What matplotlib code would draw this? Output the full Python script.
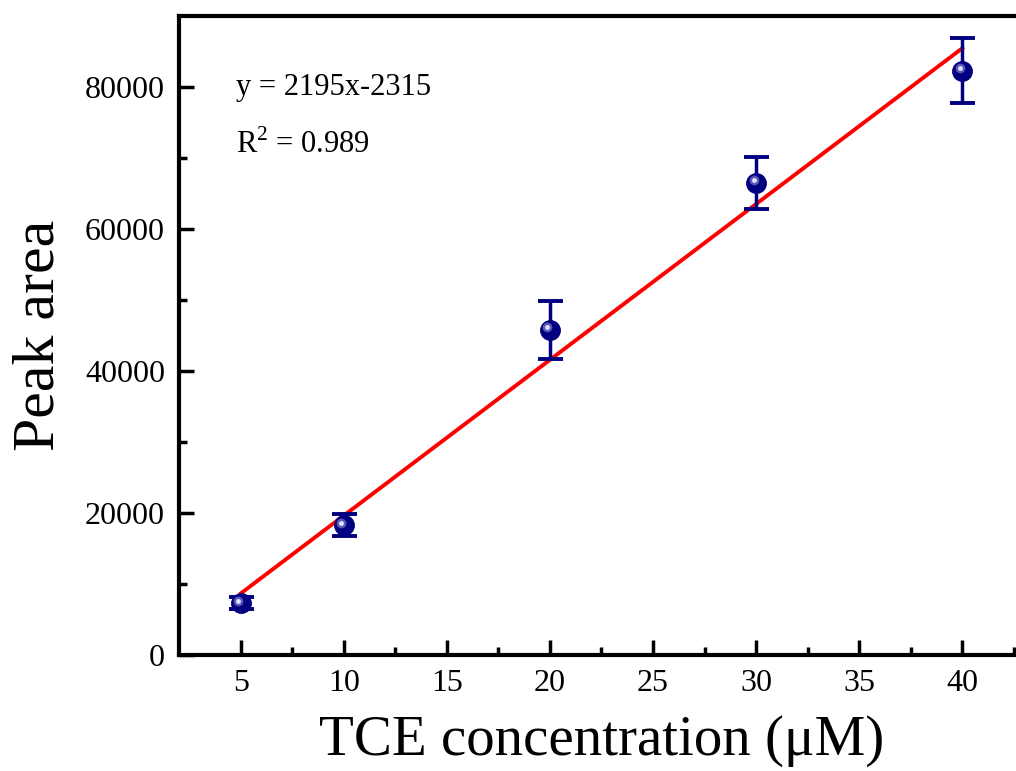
import numpy as np
import matplotlib
matplotlib.use('Agg')
import matplotlib.pyplot as plt
import matplotlib.transforms as mtransforms

plt.rcParams['font.family'] = ['Liberation Serif', 'DejaVu Serif']
plt.rcParams['mathtext.fontset'] = 'custom'
plt.rcParams['mathtext.rm'] = 'Liberation Serif'

# TCE concentration (uM) and measured peak area with error bars
conc = [5, 10, 20, 30, 40]
area = [7300, 18300, 45800, 66500, 82300]
err = [800, 1600, 4100, 3600, 4600]

# linear fit reported on the chart
slope = 2195
intercept = -2315

fig = plt.figure(figsize=(10.16, 7.71), dpi=100)
ax = fig.add_axes([0.176, 0.1505, 0.832, 0.8285])

xfit = np.array([conc[0], conc[-1]])
ax.plot(xfit, slope * xfit + intercept, color='red', lw=2.8, zorder=2)

ax.errorbar(conc, area, yerr=err, fmt='none', ecolor='#000080', elinewidth=2.5,
            capsize=9, capthick=2.8, zorder=3)
ax.plot(conc, area, 'o', color='#000080', ms=14, mec='#000080', zorder=4)
# little highlight so the markers look like spheres
shift = mtransforms.ScaledTranslation(-2.5 / 100, 2.5 / 100, fig.dpi_scale_trans)
ax.plot(conc, area, 'o', color='#7070c0', ms=7, mew=0, alpha=0.8,
        transform=ax.transData + shift, zorder=5)
ax.plot(conc, area, 'o', color='#e0e0ff', ms=3.5, mew=0,
        transform=ax.transData + shift, zorder=6)

ax.set_xlim(2, 43)
ax.set_ylim(0, 90000)
ax.set_xticks([5, 10, 15, 20, 25, 30, 35, 40])
ax.set_xticks(np.arange(7.5, 43, 5), minor=True)
ax.set_yticks([0, 20000, 40000, 60000, 80000])
ax.set_yticks([10000, 30000, 50000, 70000], minor=True)

ax.tick_params(which='major', direction='in', length=11, width=2.5, labelsize=23, pad=10)
ax.tick_params(which='minor', direction='in', length=6, width=2.5)
ax.tick_params(top=False, right=False, which='both')
for side in ['left', 'bottom', 'top']:
    ax.spines[side].set_linewidth(3)
ax.spines['right'].set_visible(False)

ax.set_xlabel('TCE concentration (μM)', fontsize=41, labelpad=12)
ax.set_ylabel('Peak area', fontsize=43, labelpad=13)

ax.text(0.068, 0.876, 'y = 2195x-2315', transform=ax.transAxes, fontsize=22)
ax.text(0.068, 0.786, r'R$^{2}$ = 0.989', transform=ax.transAxes, fontsize=22)

fig.savefig('out.png', dpi=100)
